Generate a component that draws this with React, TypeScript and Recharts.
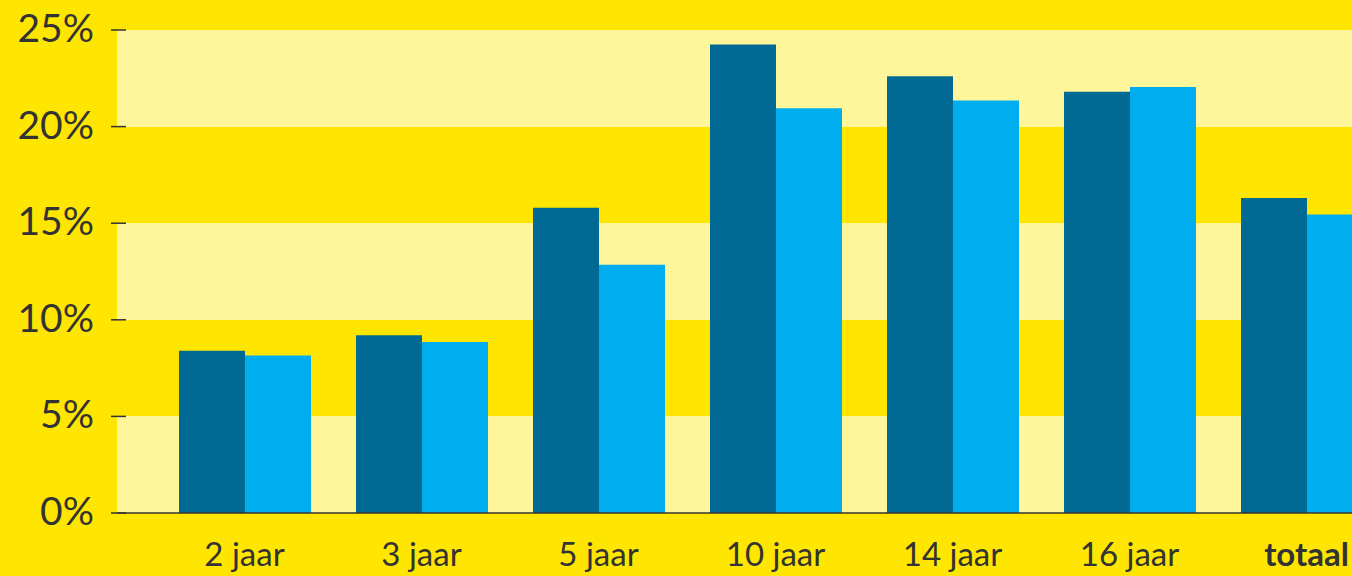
import React from 'react';
import { Bar, BarChart, CartesianGrid, XAxis, YAxis } from 'recharts';

const categories = ['2 jaar', '3 jaar', '5 jaar', '10 jaar', '14 jaar', '16 jaar', 'totaal'];
const darkValues = [8.4, 9.2, 15.8, 24.25, 22.6, 21.8, 16.3];
const lightValues = [8.15, 8.85, 12.85, 20.95, 21.35, 22.05, 15.45];
const yTicks = [0, 5, 10, 15, 20, 25];

const YELLOW = '#FFE600';
const PALE = '#FFF59B';
const DARK = '#006A94';
const LIGHT = '#00AEEF';
const TEXT = '#333333';
const FONT = 'Lato, "Open Sans", sans-serif';

const data = categories.map((name, i) => ({
  name,
  dark: darkValues[i],
  light: lightValues[i],
}));

function YTick({ y, payload }: any) {
  return (
    <g>
      <line x1={111} x2={126} y1={y} y2={y} stroke={TEXT} strokeWidth={1.5} />
      <text
        x={94}
        y={y}
        dy={12}
        textAnchor="end"
        fontSize={39}
        fontFamily={FONT}
        fill={TEXT}
      >
        {`${payload.value}%`}
      </text>
    </g>
  );
}

function XTick({ x, y, payload }: any) {
  const bold = payload.value === 'totaal';
  return (
    <text
      x={x}
      y={y}
      dy={45}
      textAnchor="middle"
      fontSize={33}
      fontWeight={bold ? 700 : 400}
      fontFamily={FONT}
      fill={TEXT}
    >
      {payload.value}
    </text>
  );
}

export default function App() {
  return (
    <div
      style={{
        position: 'fixed',
        left: 0,
        top: 0,
        width: 1352,
        height: 576,
        overflow: 'hidden',
        background: YELLOW,
      }}
    >
      <BarChart
        width={1400}
        height={576}
        data={data}
        margin={{ top: 30, right: 0, left: 0, bottom: 0 }}
        barGap={0}
        barCategoryGap={23}
      >
        <CartesianGrid
          vertical={false}
          stroke="none"
          horizontalFill={[PALE, YELLOW]}
          fillOpacity={1}
        />
        <XAxis
          dataKey="name"
          height={63}
          padding={{ left: 39, right: 5 }}
          axisLine={{ stroke: TEXT, strokeWidth: 1.5 }}
          tickLine={false}
          tick={<XTick />}
          interval={0}
        />
        <YAxis
          width={117}
          domain={[0, 25]}
          ticks={yTicks}
          axisLine={false}
          tickLine={false}
          tick={<YTick />}
        />
        <Bar dataKey="dark" fill={DARK} isAnimationActive={false} />
        <Bar dataKey="light" fill={LIGHT} isAnimationActive={false} />
      </BarChart>
    </div>
  );
}
